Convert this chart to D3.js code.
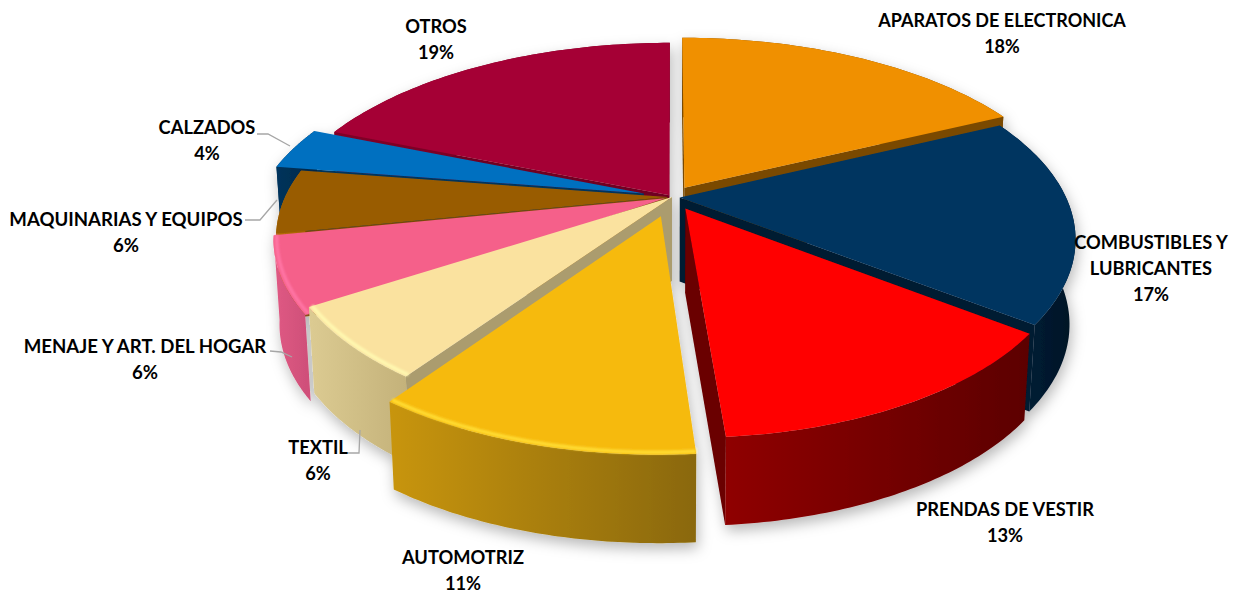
<!DOCTYPE html>
<html><head><meta charset="utf-8">
<script src="https://cdnjs.cloudflare.com/ajax/libs/d3/7.8.5/d3.min.js"></script>
<style>html,body{margin:0;background:#fff}svg{display:block}text{font-family:Lato,sans-serif;font-weight:700;fill:#000}</style>
</head><body><svg id="c" width="1243" height="593"></svg>
<script>
const categories=["APARATOS DE ELECTRONICA","COMBUSTIBLES Y|LUBRICANTES","PRENDAS DE VESTIR","AUTOMOTRIZ","TEXTIL","MENAJE Y ART. DEL HOGAR","MAQUINARIAS Y EQUIPOS","CALZADOS","OTROS"];
const values=[18.0,17.3,13.45,11.05,6.2,5.9,5.5,3.6,19.0];
const explode=[0.06,0.02,0.07,0.105,0.0,0.018,0.012,0.075,0.012];
const radii=[1,0.99,0.95,0.965,0.978,0.98,0.98,0.99,1];
const startOverlap=[0,0,0,0,0,0.5,0,0,0];
const topColors=["#f09000","#003560","#ff0000","#f6ba10","#fae29f","#f5608a","#995c05","#0070c0","#a50034"];
const faceColors=["#7a4900","#001a30","#6b0000","#a8986c","#ab9c6e","#c04a6c","#7a4a05","#00345c","#700024"];
const wallLeft=["#7a4900","#00213d","#8f0000","#c8950d","#dccb92","#e05a84","#b87008","#00345c","#800028"];
const wallRight=["#7a4900","#001425","#5c0000","#8a6808","#c4b27a","#d0507a","#a86405","#00284a","#700024"];
const rimColors=[null,null,null,"#ffdc30","#fff8b0","#ff74a4",null,null,null];
const hideStartFace=[false,false,false,false,false,true,false,false,false];
const labelX=[1002,1151,1005,463,318,145,126,207,436];
const labelY=[27,249,516,564,454,353,226,134,33];
const labelSize=[18,18.3,18.3,18.3,18.3,18.6,18.6,18.3,18.3];
const leaderX=[[257,268,290],[245,260,277],[270,281,292],[347,359,360]];
const leaderY=[[134,134,146],[220,220,200],[351,352,357],[453,453,430]];

const W=1243,H=593,cx=672,cy=197,Rx=390,Ry=186,persp=0.216,depth=84;
const svg=d3.select("#c");
const defs=svg.append("defs");
const sh=defs.append("filter").attr("id","shadow").attr("x","-10%").attr("y","-10%").attr("width","120%").attr("height","125%");
sh.append("feDropShadow").attr("dx",2).attr("dy",6).attr("stdDeviation",7).attr("flood-color","#000").attr("flood-opacity",0.28);
defs.append("filter").attr("id","soft").append("feGaussianBlur").attr("stdDeviation",1.1);

const xS=d3.scaleLinear().domain([-1,1]).range([cx-Rx,cx+Rx]);
const yS=d3.scaleLinear().domain([-1,1]).range([cy-Ry,cy+Ry]);
function project(u,v,h){
  const s=1/(1-persp*v);
  return [xS(u*s*(1-0.015*h)), yS(v*s)+depth*h*(1+0.05*v)];
}
const line=d3.line();
const pie=d3.pie().sort(null).value(d=>d)(values);
const slices=pie.map((p,i)=>{
  const mid=(p.startAngle+p.endAngle)/2;
  return {i,a0:p.startAngle-startOverlap[i]*Math.PI/50,a1:p.endAngle,mid,R:radii[i],ou:explode[i]*Math.sin(mid),ov:-explode[i]*Math.cos(mid)};
});
function pt(s,r,a,h){return project(s.ou+r*s.R*Math.sin(a),s.ov-r*s.R*Math.cos(a),h);}
function arcPts(s,r,h,rev){
  const n=60,out=d3.range(n+1).map(k=>pt(s,r,s.a0+(s.a1-s.a0)*k/n,h));
  return rev?out.reverse():out;
}
const area=pts=>d3.polygonArea(pts);
const g=svg.append("g").attr("filter","url(#shadow)");
slices.slice().sort((a,b)=>(-Math.cos(a.mid))-(-Math.cos(b.mid))).forEach(s=>{
  const i=s.i,gs=g.append("g");
  const id="wall"+i;
  const xs=arcPts(s,1,0).map(p=>p[0]);
  const lg=defs.append("linearGradient").attr("id",id).attr("gradientUnits","userSpaceOnUse")
    .attr("x1",d3.min(xs)).attr("x2",d3.max(xs)).attr("y1",0).attr("y2",0);
  lg.append("stop").attr("offset",0).attr("stop-color",wallLeft[i]);
  lg.append("stop").attr("offset",1).attr("stop-color",wallRight[i]);
  const c0=pt(s,0,0,0),c1=pt(s,0,0,1);
  [s.a0,s.a1].forEach((a,k)=>{
    if(k===0&&hideStartFace[i]) return;
    const quad=k===0?[c0,pt(s,1,a,0),pt(s,1,a,1),c1]:[pt(s,1,a,0),c0,c1,pt(s,1,a,1)];
    if(area(quad)>0) gs.append("path").attr("d",line(quad)+"Z").attr("fill",faceColors[i]);
  });
  gs.append("path").attr("d",line(arcPts(s,1,0).concat(arcPts(s,1,1,true)))+"Z").attr("fill",`url(#${id})`);
  gs.append("path").attr("d",line([c0].concat(arcPts(s,1,0)))+"Z").attr("fill",topColors[i]);
  if(rimColors[i]) gs.append("path").attr("d",line(arcPts(s,0.992,0))).attr("fill","none")
    .attr("stroke",rimColors[i]).attr("stroke-width",3.5).attr("filter","url(#soft)");
});
leaderX.forEach((xs,k)=>{
  svg.append("path").attr("d",line(xs.map((x,j)=>[x,leaderY[k][j]]))).attr("fill","none").attr("stroke","#a6a6a6").attr("stroke-width",1.3);
});
categories.forEach((c,i)=>{
  const rows=c.split("|").concat(Math.round(values[i])+"%");
  const t=svg.append("text").attr("text-anchor","middle").attr("font-size",labelSize[i]);
  rows.forEach((r,k)=>t.append("tspan").attr("x",labelX[i]).attr("y",labelY[i]+k*26).text(r));
});
</script></body></html>
